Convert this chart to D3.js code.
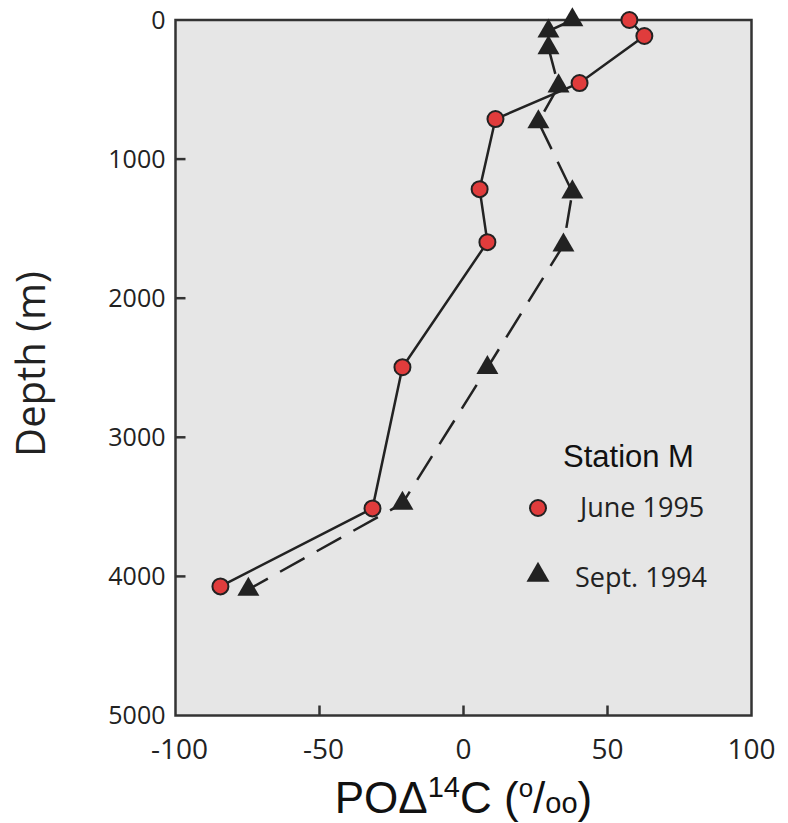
<!DOCTYPE html>
<html>
<head>
<meta charset="utf-8">
<script src="https://cdn.jsdelivr.net/npm/d3@7"></script>
<style>
  body { margin: 0; background: #fff; }
  svg { display: block; }
</style>
</head>
<body>
<div id="chart"></div>
<script>
// Station M profiles: depth (m) and PO14C (permil)
var juneDepth = [0, 115, 453, 712, 1216, 1597, 2496, 3511, 4072]
var juneValue = [57.6, 62.8, 40.3, 11.1, 5.6, 8.3, -21.2, -31.6, -84.4]

var septDepth = [0, 80, 200, 475, 733, 1237, 1619, 2500, 3475, 4094]
var septValue = [37.8, 29.5, 29.5, 33, 26, 37.8, 34.7, 8.3, -21.2, -74.7]

var xTicks = [-100, -50, 0, 50, 100]
var yTicks = [0, 1000, 2000, 3000, 4000, 5000]

var juneData = juneDepth.map((d, i) => ({ depth: d, value: juneValue[i] }))
var septData = septDepth.map((d, i) => ({ depth: d, value: septValue[i] }))

const WIDTH = 788
const HEIGHT = 823
const MARGIN = { left: 175.5, right: 36.5, top: 20, bottom: 107.5 }
const FRAME_COLOR = '#333'
const CIRCLE_FILL = '#e03c3c'
const TRI_FILL = '#222'
const NUM_FONT = "'Open Sans', sans-serif"
const SANS_FONT = "'Liberation Sans', Arial, sans-serif"

var svg = d3.select('#chart')
  .append('svg')
  .attr('width', WIDTH)
  .attr('height', HEIGHT)

var xScale = d3.scaleLinear()
  .domain([-100, 100])
  .range([MARGIN.left, WIDTH - MARGIN.right])
var yScale = d3.scaleLinear()
  .domain([0, 5000])
  .range([MARGIN.top, HEIGHT - MARGIN.bottom])

// plot background
svg.append('rect')
  .attr('x', xScale(-100))
  .attr('y', yScale(0))
  .attr('width', xScale(100) - xScale(-100))
  .attr('height', yScale(5000) - yScale(0))
  .attr('fill', '#e6e6e6')

// inner ticks (no ticks at the ends)
svg.append('g')
  .selectAll('line')
  .data(xTicks.slice(1, -1))
  .enter()
  .append('line')
  .attr('x1', d => xScale(d))
  .attr('x2', d => xScale(d))
  .attr('y1', yScale(5000))
  .attr('y2', yScale(5000) - 10)
  .attr('stroke', FRAME_COLOR)
  .attr('stroke-width', 2.5)
svg.append('g')
  .selectAll('line')
  .data(yTicks.slice(1, -1))
  .enter()
  .append('line')
  .attr('x1', xScale(-100))
  .attr('x2', xScale(-100) + 10)
  .attr('y1', d => yScale(d))
  .attr('y2', d => yScale(d))
  .attr('stroke', FRAME_COLOR)
  .attr('stroke-width', 2.5)

// frame
svg.append('rect')
  .attr('x', xScale(-100))
  .attr('y', yScale(0))
  .attr('width', xScale(100) - xScale(-100))
  .attr('height', yScale(5000) - yScale(0))
  .attr('fill', 'none')
  .attr('stroke', FRAME_COLOR)
  .attr('stroke-width', 2.5)

// tick labels
svg.append('g')
  .selectAll('text')
  .data(xTicks)
  .enter()
  .append('text')
  .attr('x', d => xScale(d) + (d < 0 ? 4 : 0))
  .attr('y', 759)
  .attr('text-anchor', 'middle')
  .style('font-family', NUM_FONT)
  .style('font-size', '28px')
  .attr('fill', '#222')
  .text(d => d)
svg.append('g')
  .selectAll('text')
  .data(yTicks)
  .enter()
  .append('text')
  .attr('x', xScale(-100) - 10)
  .attr('y', d => yScale(d))
  .attr('dy', '0.35em')
  .attr('text-anchor', 'end')
  .style('font-family', NUM_FONT)
  .style('font-size', '25px')
  .attr('fill', '#222')
  .text(d => d)

// axis titles
svg.append('text')
  .attr('transform', 'translate(45,364) rotate(-90)')
  .attr('text-anchor', 'middle')
  .style('font-family', NUM_FONT)
  .style('font-size', '40px')
  .attr('fill', '#222')
  .text('Depth (m)')

var xTitle = svg.append('text')
  .attr('x', (xScale(-100) + xScale(100)) / 2)
  .attr('y', 813)
  .attr('text-anchor', 'middle')
  .style('font-family', SANS_FONT)
  .style('font-size', '44px')
  .attr('fill', '#111')
xTitle.append('tspan').text('POΔ')
xTitle.append('tspan').attr('dy', -16).style('font-size', '29px').text('14')
xTitle.append('tspan').attr('dy', 16).text('C (')
xTitle.append('tspan').attr('dy', -16).style('font-size', '26px').text('o')
xTitle.append('tspan').attr('dy', 16).text('/')
xTitle.append('tspan').style('font-size', '29px').text('oo')
xTitle.append('tspan').text(')')

// lines
var line = d3.line()
  .x(d => xScale(d.value))
  .y(d => yScale(d.depth))

svg.append('path')
  .datum(septData)
  .attr('d', line)
  .attr('fill', 'none')
  .attr('stroke', '#222')
  .attr('stroke-width', 2.5)
  .attr('stroke-dasharray', '28,14')

svg.append('path')
  .datum(juneData)
  .attr('d', line)
  .attr('fill', 'none')
  .attr('stroke', '#222')
  .attr('stroke-width', 2.5)

// triangle centred on its centroid
function triPath (cx, cy, side) {
  var h = side * Math.sqrt(3) / 2
  return 'M' + cx + ',' + (cy - 2 * h / 3) +
    'L' + (cx + side / 2) + ',' + (cy + h / 3) +
    'L' + (cx - side / 2) + ',' + (cy + h / 3) + 'Z'
}

svg.append('g')
  .selectAll('path')
  .data(septData)
  .enter()
  .append('path')
  .attr('d', d => triPath(xScale(d.value), yScale(d.depth), 22))
  .attr('fill', TRI_FILL)

svg.append('g')
  .selectAll('circle')
  .data(juneData)
  .enter()
  .append('circle')
  .attr('cx', d => xScale(d.value))
  .attr('cy', d => yScale(d.depth))
  .attr('r', 8)
  .attr('fill', CIRCLE_FILL)
  .attr('stroke', '#222')
  .attr('stroke-width', 2)

// legend
svg.append('text')
  .attr('x', 563)
  .attr('y', 467)
  .style('font-family', SANS_FONT)
  .style('font-size', '31px')
  .attr('fill', '#111')
  .text('Station M')
svg.append('circle')
  .attr('cx', 538)
  .attr('cy', 508)
  .attr('r', 8)
  .attr('fill', CIRCLE_FILL)
  .attr('stroke', '#222')
  .attr('stroke-width', 2)
svg.append('text')
  .attr('x', 580)
  .attr('y', 517)
  .style('font-family', NUM_FONT)
  .style('font-size', '27px')
  .attr('fill', '#222')
  .text('June 1995')
svg.append('path')
  .attr('d', triPath(538, 575, 23))
  .attr('fill', TRI_FILL)
svg.append('text')
  .attr('x', 575)
  .attr('y', 587)
  .style('font-family', NUM_FONT)
  .style('font-size', '27px')
  .attr('fill', '#222')
  .text('Sept. 1994')
</script>
</body>
</html>
